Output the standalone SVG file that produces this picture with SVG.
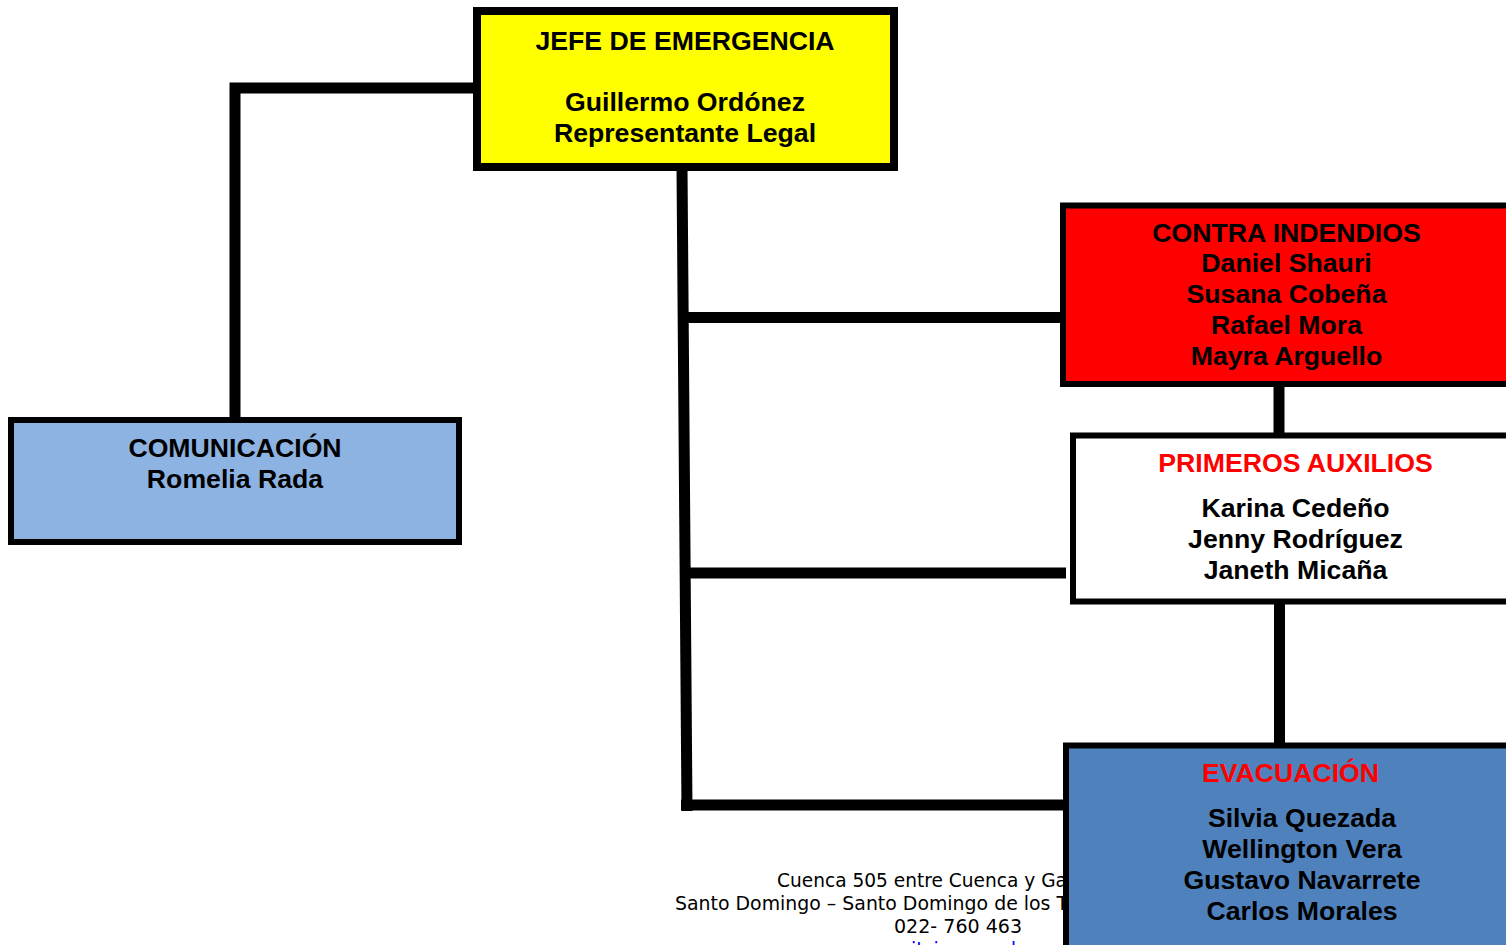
<svg xmlns="http://www.w3.org/2000/svg" width="1506" height="945" viewBox="0 0 1506 945">
<style>
.box{stroke:#000;stroke-width:6}
.t{font-family:"Liberation Sans",Arial,sans-serif;font-weight:bold;font-size:26.67px;fill:#000;text-anchor:middle}
.red{fill:#FF0000}
.ft{font-family:"DejaVu Sans",Verdana,sans-serif;font-size:19px;fill:#000}
.con{stroke:#000;stroke-width:11;fill:none;stroke-linecap:butt}
</style>
<rect width="1506" height="945" fill="#fff"/>
<g id="footer">
<text class="ft" x="777" y="887" textLength="290" lengthAdjust="spacingAndGlyphs">Cuenca 505 entre Cuenca y Ga</text>
<text class="ft" x="675" y="910" textLength="393" lengthAdjust="spacingAndGlyphs">Santo Domingo – Santo Domingo de los T</text>
<text class="ft" x="894" y="933" textLength="128" lengthAdjust="spacingAndGlyphs">022- 760 463</text>
<text class="ft" x="860" y="956" style="fill:#0000FF;text-decoration:underline">www.itsjapan.edu.ec</text>
</g>
<g id="connectors">
<path class="con" d="M235 418 V88 H475"/>
<path class="con" d="M682 167 L687 811" stroke-width="12"/>
<path class="con" d="M682 317.5 H1063"/>
<path class="con" d="M686 573 H1066"/>
<path class="con" d="M681 805 H1064" stroke-width="12"/>
<path class="con" d="M1279 384 V436"/>
<path class="con" d="M1279.5 601 V746"/>
</g>
<g id="jefe">
<rect x="477" y="11" width="417" height="156" fill="#FFFF00" stroke="#000" stroke-width="8"/>
<text class="t" x="685" y="49.5">JEFE DE EMERGENCIA</text>
<text class="t" x="685" y="110.5">Guillermo Ordónez</text>
<text class="t" x="685" y="141.5">Representante Legal</text>
</g>
<g id="comunicacion">
<rect class="box" x="11" y="420" width="448" height="122" fill="#8DB3E2"/>
<text class="t" x="235" y="457">COMUNICACIÓN</text>
<text class="t" x="235" y="488">Romelia Rada</text>
</g>
<g id="contra-incendios">
<rect class="box" x="1063" y="205.5" width="450" height="178.5" fill="#FF0000"/>
<text class="t" x="1286.5" y="241.7">CONTRA INDENDIOS</text>
<text class="t" x="1286.5" y="272.4">Daniel Shauri</text>
<text class="t" x="1286.5" y="303.1">Susana Cobeña</text>
<text class="t" x="1286.5" y="333.8">Rafael Mora</text>
<text class="t" x="1286.5" y="364.5">Mayra Arguello</text>
</g>
<g id="primeros-auxilios">
<rect class="box" x="1073" y="435.5" width="450" height="166" fill="#FFFFFF"/>
<text class="t red" x="1295.5" y="471.7">PRIMEROS AUXILIOS</text>
<text class="t" x="1295.5" y="517.3">Karina Cedeño</text>
<text class="t" x="1295.5" y="548.3">Jenny Rodríguez</text>
<text class="t" x="1295.5" y="579.3">Janeth Micaña</text>
</g>
<g id="evacuacion">
<rect class="box" x="1066" y="745.5" width="475" height="230" fill="#4F81BD"/>
<text class="t red" x="1290.5" y="781.7">EVACUACIÓN</text>
<text class="t" x="1302" y="827.3">Silvia Quezada</text>
<text class="t" x="1302" y="858.3">Wellington Vera</text>
<text class="t" x="1302" y="889.3">Gustavo Navarrete</text>
<text class="t" x="1302" y="920">Carlos Morales</text>
</g>
</svg>
